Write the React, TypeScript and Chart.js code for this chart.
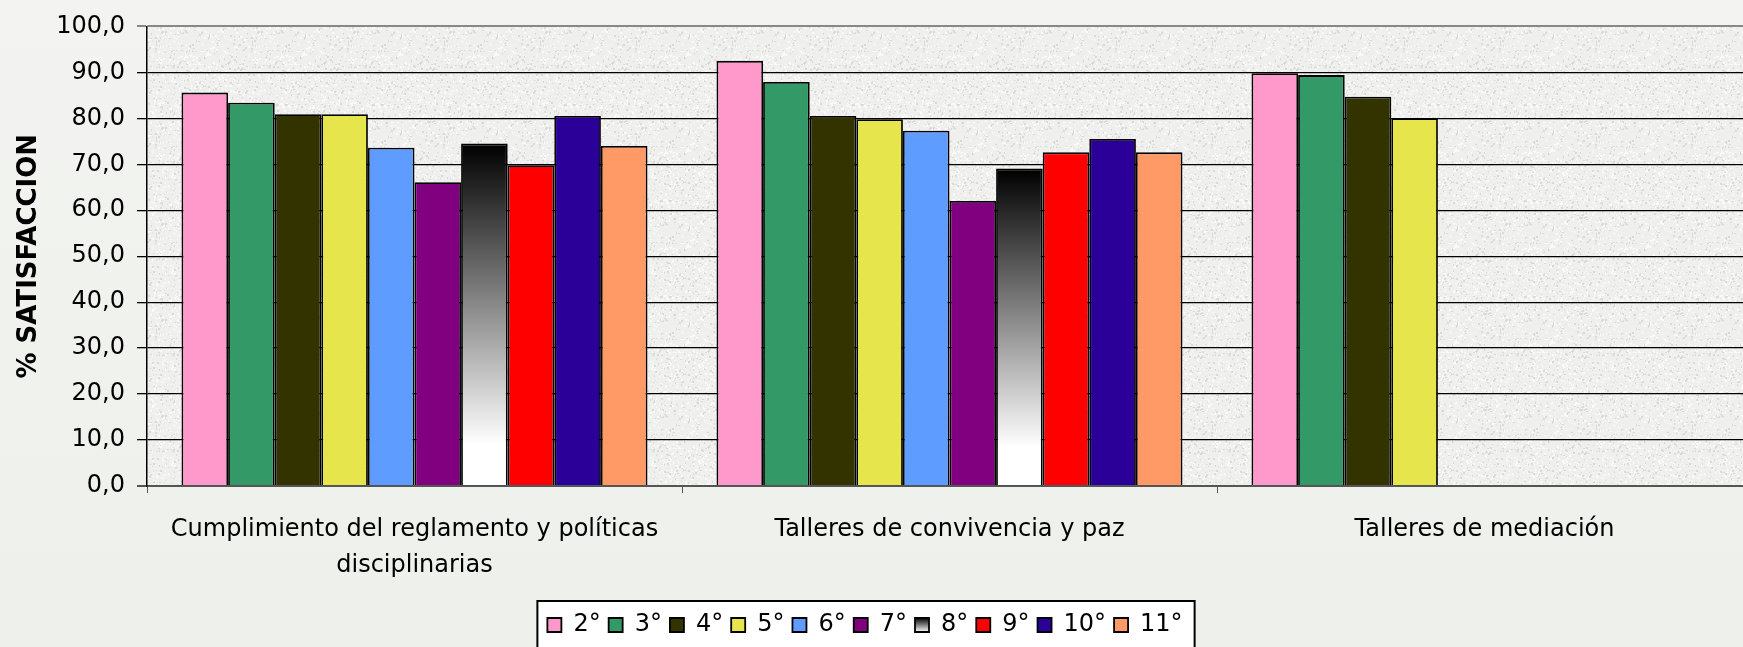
import React, { useEffect, useRef } from 'react';
import { Chart, registerables } from 'chart.js';

Chart.register(...registerables);

// ---- data ----
const categories: (string | string[])[] = [
  ['Cumplimiento del reglamento y políticas', 'disciplinarias'],
  'Talleres de convivencia y paz',
  'Talleres de mediación',
];
const grades = ['2°', '3°', '4°', '5°', '6°', '7°', '8°', '9°', '10°', '11°'];
const g2 = [85.6, 92.5, 89.8];
const g3 = [83.4, 87.9, 89.4];
const g4 = [80.9, 80.5, 84.7];
const g5 = [80.9, 79.8, 80.0];
const g6 = [73.6, 77.3, null];
const g7 = [66.1, 62.0, null];
const g8 = [74.5, 69.1, null];
const g9 = [69.8, 72.6, null];
const g10 = [80.5, 75.5, null];
const g11 = [74.0, 72.6, null];
const yTicks = [0, 10, 20, 30, 40, 50, 60, 70, 80, 90, 100];

const series = [g2, g3, g4, g5, g6, g7, g8, g9, g10, g11];
const colors = ['#FF99CC', '#339966', '#333300', '#E6E64C', '#5E9DFF', '#800080', 'GRAD', '#FF0000', '#2A0099', '#FF9966'];

const W = 1756;
const H = 647;

const fin = (n: any) => typeof n === 'number' && isFinite(n);

// deterministic speckle texture for the plot background (decoration only)
function makeTexture(): HTMLCanvasElement {
  const c = document.createElement('canvas');
  c.width = 96;
  c.height = 96;
  const x = c.getContext('2d')!;
  x.fillStyle = '#EFEFEE';
  x.fillRect(0, 0, 96, 96);
  let s = 12345;
  const next = () => {
    s = (s * 1103515245 + 12345) & 0x7fffffff;
    return s / 0x7fffffff;
  };
  for (let i = 0; i < 900; i++) {
    const px = Math.floor(next() * 96);
    const py = Math.floor(next() * 96);
    const light = next() > 0.45;
    x.fillStyle = light ? '#FAFAFA' : '#DADADA';
    x.fillRect(px, py, 1 + Math.floor(next() * 2), 1 + Math.floor(next() * 2));
  }
  return c;
}

export default function App() {
  const ref = useRef<HTMLCanvasElement>(null);

  useEffect(() => {
    const canvas = ref.current;
    if (!canvas) return;
    Chart.defaults.font.family = '"DejaVu Sans", Verdana, sans-serif';
    const tex = makeTexture();

    const grad8 = (c: any) => {
      const chart = c.chart;
      const y = chart.scales && chart.scales.y;
      const v = c.parsed ? c.parsed.y : c.raw;
      if (!y || !fin(v) || !chart.chartArea) return '#888888';
      const top = y.getPixelForValue(v);
      const base = y.getPixelForValue(0);
      if (!fin(top) || !fin(base) || top === base) return '#888888';
      const g = chart.ctx.createLinearGradient(0, top, 0, base);
      g.addColorStop(0, '#000000');
      g.addColorStop(0.88, '#ffffff');
      g.addColorStop(1, '#ffffff');
      return g;
    };

    const decor = {
      id: 'decor',
      afterLayout(chart: any) {
        const lg = chart.legend;
        if (lg) {
          lg.left -= 11;
          lg.right -= 11;
        }
      },
      beforeDraw(chart: any) {
        const { ctx, chartArea: a } = chart;
        ctx.save();
        const pat = ctx.createPattern(tex, 'repeat');
        ctx.fillStyle = pat || '#EBEBEA';
        ctx.fillRect(a.left, a.top, a.right - a.left, a.bottom - a.top);
        const lg = chart.legend;
        if (lg && lg.legendHitBoxes && lg.legendHitBoxes.length) {
          const hb = lg.legendHitBoxes;
          const l = Math.min(...hb.map((h: any) => h.left)) - 10;
          const r = Math.max(...hb.map((h: any) => h.left + h.width)) + 12;
          const t = hb[0].top - 12;
          ctx.fillStyle = '#ffffff';
          ctx.fillRect(l, t, r - l, H);
          ctx.strokeStyle = '#000000';
          ctx.lineWidth = 2;
          ctx.strokeRect(l, t, r - l, H);
        }
        ctx.restore();
      },
    };

    const chart = new Chart(canvas, {
      type: 'bar',
      data: {
        labels: categories,
        datasets: grades.map((g, i) => ({
          label: g,
          data: series[i] as any,
          backgroundColor: colors[i] === 'GRAD' ? (grad8 as any) : colors[i],
          borderColor: '#000000',
          borderWidth: 1.8,
          categoryPercentage: 0.871,
          barPercentage: 1,
        })),
      },
      options: {
        responsive: false,
        animation: false,
        layout: { padding: { left: 0, right: 4, top: 24, bottom: 0 } },
        plugins: {
          tooltip: { enabled: false },
          legend: {
            position: 'bottom',
            labels: {
              boxWidth: 14,
              boxHeight: 14,
              padding: 8,
              color: '#000000',
              font: { size: 24 },
              generateLabels: (ch: any) => {
                const items = Chart.defaults.plugins.legend.labels.generateLabels(ch);
                const lg = ch.legend;
                if (items[6]) {
                  if (lg && fin(lg.top)) {
                    const top = lg.top + 13;
                    const g = ch.ctx.createLinearGradient(0, top, 0, top + 14);
                    g.addColorStop(0, '#000000');
                    g.addColorStop(1, '#ffffff');
                    items[6].fillStyle = g;
                  } else {
                    items[6].fillStyle = '#888888';
                  }
                }
                return items;
              },
            },
          },
        },
        scales: {
          x: {
            grid: { offset: true, drawOnChartArea: false, drawTicks: true, tickLength: 7, color: '#555555', lineWidth: 1 },
            border: { display: true, color: '#555555', width: 2 },
            ticks: { font: { size: 24, lineHeight: 1.48 }, color: '#000000', padding: 19, maxRotation: 0, autoSkip: false },
            afterFit: (s: any) => { s.height = 119; },
          },
          y: {
            min: yTicks[0],
            max: yTicks[yTicks.length - 1],
            afterBuildTicks: (s: any) => { s.ticks = yTicks.map((v) => ({ value: v })); },
            ticks: {
              font: { size: 24 },
              color: '#000000',
              padding: 12,
              callback: (v: any) => Number(v).toFixed(1).replace('.', ','),
            },
            grid: {
              color: (c: any) => (c.tick && c.tick.value === 0 ? '#555555' : c.tick && c.tick.value === 100 ? '#888888' : '#000000'),
              lineWidth: (c: any) => (c.tick && (c.tick.value === 0 || c.tick.value === 100) ? 2 : 1.3),
              tickLength: 10,
              drawTicks: true,
            },
            border: { display: true, color: '#000000', width: 1.5 },
            title: {
              display: true,
              text: '% SATISFACCION',
              color: '#000000',
              font: { size: 26, weight: 'bold' },
              padding: { top: 14, bottom: 0 },
            },
            afterFit: (s: any) => { s.width = 147; },
          },
        },
      } as any,
      plugins: [decor],
    });

    return () => chart.destroy();
  }, []);

  return (
    <div
      style={{
        position: 'fixed',
        left: 0,
        top: 0,
        width: 1743,
        height: 647,
        overflow: 'hidden',
        background: 'linear-gradient(#F3F4F1, #EEF0EB)',
      }}
    >
      <canvas ref={ref} width={W} height={H} style={{ display: 'block', width: W, height: H }} />
    </div>
  );
}
